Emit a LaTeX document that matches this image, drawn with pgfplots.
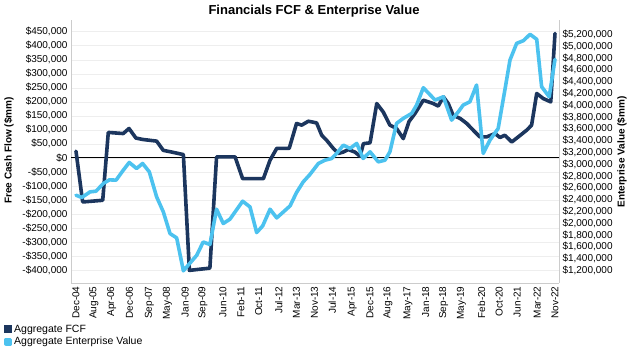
\documentclass[border=0pt]{standalone}
\usepackage{pgfplots}
\usepackage{pgfplotstable}
\pgfplotsset{compat=1.18}
\usepackage{fontspec}
\setmainfont{Liberation Sans}
\definecolor{fcf}{HTML}{1C365E}
\definecolor{ev}{HTML}{4CC2EF}
\definecolor{gridc}{HTML}{EEEEEE}
\definecolor{axc}{HTML}{CCCCCC}

\pgfplotstableread{
m v
0 24000
3.0 -157000
12.0 -151000
14.5 91000
21.2 87000
23.8 105000
26.9 71000
29.9 66000
36.2 60000
39.2 27000
43.0 21000
48.2 12000
50.9 -401000
60.1 -393000
63.1 4000
71.4 4000
74.8 -74000
84.1 -74000
87.1 -8000
90.1 34000
95.7 34000
99.0 123000
101.3 117000
104.3 131000
108.0 125000
110.3 81000
112.5 63000
115.5 34000
117.7 16000
120.0 21000
122.2 30000
125.2 21000
127.5 6000
129.0 51000
132.0 54000
135.0 194000
137.9 164000
140.9 117000
143.9 105000
146.9 69000
149.5 130000
152.2 159000
155.9 206000
160.4 194000
162.6 185000
164.9 218000
167.1 194000
169.3 152000
172.4 141000
175.4 123000
178.3 99000
181.3 75000
184.3 75000
188.1 87000
190.3 73000
192.5 81000
195.6 57000
198.5 75000
202.3 99000
204.5 117000
206.8 230000
209.7 212000
213.1 200000
215.0 444000
}\fcfdata

\pgfplotstableread{
m v
0 2475000
2.6 2436000
6.3 2531000
9.0 2543000
12.3 2674000
15.0 2735000
18.0 2730000
21.0 2888000
23.9 3030000
27.2 2928000
29.9 3013000
32.9 2871000
36.2 2446000
39.2 2192000
42.2 1825000
45.2 1750000
48.2 1193000
54.2 1456000
57.1 1682000
60.1 1638000
63.1 2237000
66.1 1995000
69.1 2068000
74.8 2373000
78.1 2276000
81.1 1842000
83.8 1954000
87.1 2237000
90.1 2090000
96.1 2294000
99.0 2521000
102.0 2701000
105.0 2826000
108.8 3013000
111.8 3069000
114.8 3098000
117.0 3183000
120.0 3324000
123.0 3268000
126.0 3353000
128.9 3098000
132.0 3210000
135.7 3040000
138.7 3069000
140.9 3210000
143.9 3692000
146.9 3777000
150.7 3862000
152.9 4003000
155.9 4297000
161.2 4088000
164.9 4144000
168.6 3748000
171.6 3889000
173.8 4003000
176.8 4059000
179.8 4343000
182.8 3183000
185.8 3409000
189.5 3607000
192.5 4258000
194.8 4767000
197.8 5050000
200.8 5095000
203.8 5203000
206.8 5118000
209.0 4314000
212.4 4144000
215.0 4779000
}\evdata

\begin{document}
\begin{tikzpicture}
\useasboundingbox (-71pt,-67pt) rectangle (559pt,283pt);
\begin{axis}[
  scale only axis, width=488pt, height=263pt,
  xmin=-2.24, xmax=216.8, ymin=-446000, ymax=492000,
  axis y line*=left, axis x line*=bottom,
  axis line style={axc, line width=0.8pt, -},
  scaled y ticks=false, scaled x ticks=false,
  major tick length=0pt,
  tick label style={font=\fontsize{10}{12}\selectfont},
  xtick={0,8,16,24,33,41,49,57,66,74,82,91,99,107,115,124,132,140,149,157,165,173,182,190,198,207,215},
  xticklabels={Dec-04,Aug-05,Apr-06,Dec-06,Sep-07,May-08,Jan-09,Sep-09,Jun-10,Feb-11,Oct-11,Jul-12,Mar-13,Nov-13,Jul-14,Apr-15,Dec-15,Aug-16,May-17,Jan-18,Sep-18,May-19,Feb-20,Oct-20,Jun-21,Mar-22,Nov-22},
  xticklabel style={rotate=90, anchor=east},
  ytick={-400000,-350000,-300000,-250000,-200000,-150000,-100000,-50000,0,50000,100000,150000,200000,250000,300000,350000,400000,450000},
  yticklabels={{-\$400,000},{-\$350,000},{-\$300,000},{-\$250,000},{-\$200,000},{-\$150,000},{-\$100,000},{-\$50,000},{\$0},{\$50,000},{\$100,000},{\$150,000},{\$200,000},{\$250,000},{\$300,000},{\$350,000},{\$400,000},{\$450,000}},
  ymajorgrids, major grid style={gridc, line width=0.6pt},
  ylabel={Free Cash Flow (\$mm)},
  ylabel style={at={(axis description cs:-0.127,0.504)}, anchor=center, font=\bfseries\fontsize{10}{12}\selectfont},
  clip mode=individual,
]
\addplot[black, line width=1pt, forget plot] coordinates {(-2.24,0) (216.8,0)};
\addplot[fcf, line width=3.6pt, line join=round, line cap=round] table {\fcfdata};
\node[anchor=base, font=\bfseries\fontsize{13}{15}\selectfont, inner sep=0pt] at (rel axis cs:0.498,1.0228) {Financials FCF \& Enterprise Value};
\end{axis}
\begin{axis}[
  scale only axis, width=488pt, height=263pt,
  xmin=-2.24, xmax=216.8, ymin=986000, ymax=5446000,
  axis y line*=right, axis x line=none, xtick=\empty,
  axis line style={axc, line width=0.8pt, -},
  scaled y ticks=false,
  major tick length=0pt,
  tick label style={font=\fontsize{10}{12}\selectfont},
  ytick={1200000,1400000,1600000,1800000,2000000,2200000,2400000,2600000,2800000,3000000,3200000,3400000,3600000,3800000,4000000,4200000,4400000,4600000,4800000,5000000,5200000},
  yticklabels={{\$1,200,000},{\$1,400,000},{\$1,600,000},{\$1,800,000},{\$2,000,000},{\$2,200,000},{\$2,400,000},{\$2,600,000},{\$2,800,000},{\$3,000,000},{\$3,200,000},{\$3,400,000},{\$3,600,000},{\$3,800,000},{\$4,000,000},{\$4,200,000},{\$4,400,000},{\$4,600,000},{\$4,800,000},{\$5,000,000},{\$5,200,000}},
  ylabel={Enterprise Value (\$mm)},
  ylabel style={at={(axis description cs:1.129,0.498)}, anchor=center, font=\bfseries\fontsize{10}{12}\selectfont},
  legend style={at={(axis description cs:-0.1373,-0.152)}, anchor=north west, draw=none, fill=none, inner sep=0pt,
    font=\fontsize{10.5}{12}\selectfont,
    nodes={inner ysep=1.25pt, text height=7.6pt, text depth=2.2pt}},
  legend cell align=left,
  legend image code/.code={\fill[#1] (0pt,-2.2pt) rectangle (4.4pt,2.2pt);},
]
\addlegendimage{fcf, line width=3.6pt}
\addlegendentry{Aggregate FCF}
\addplot[ev, line width=3.6pt, line join=round, line cap=round] table {\evdata};
\addlegendentry{Aggregate Enterprise Value}
\end{axis}
\end{tikzpicture}
\end{document}
